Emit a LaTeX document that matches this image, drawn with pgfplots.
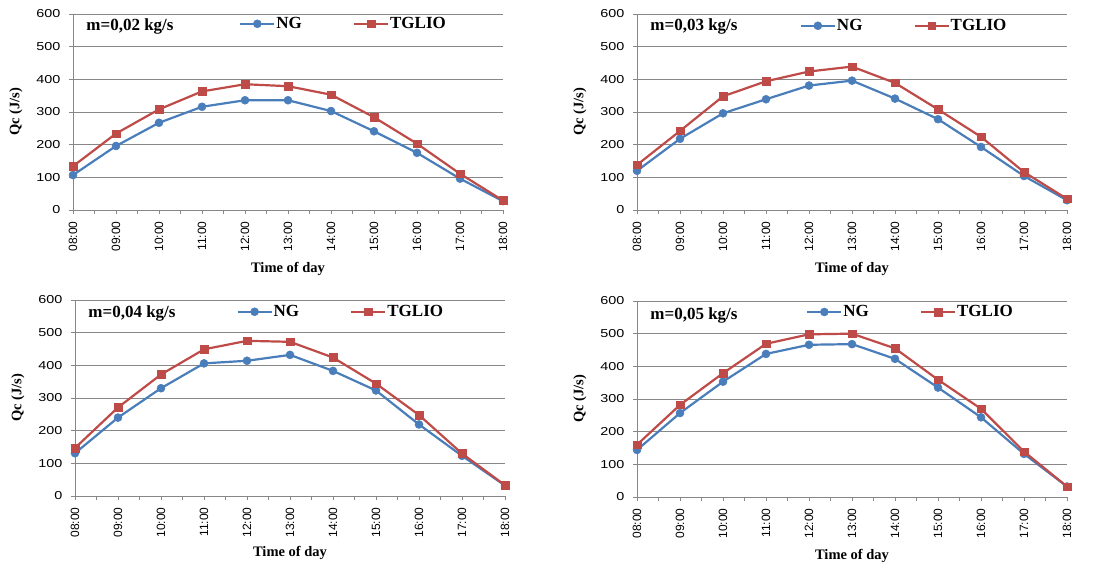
\documentclass[border=0pt]{standalone}
\usepackage{pgfplots}
\pgfplotsset{compat=1.18}
\usepackage{pgfplotstable}
\usepackage{fontspec}
\setmainfont{Liberation Serif}
\newfontfamily\sansf{Liberation Sans}
\newfontfamily\sanswide{Liberation Sans}[FakeStretch=1.25]
\definecolor{ngblue}{HTML}{4A7EBB}
\definecolor{tgred}{HTML}{BE4B48}
\definecolor{gridgray}{HTML}{878787}

\pgfplotstableread{
x ng tg
0 107 134
1 196 234
2 267 308
3 316 363
4 336 385
5 336 379
6 303 353
7 241 284
8 175 203
9 96 111
10 27 29
}\dataA
\pgfplotstableread{
x ng tg
0 120 138
1 218 242
2 296 348
3 339 394
4 381 424
5 396 439
6 341 389
7 278 308
8 193 224
9 104 116
10 30 34
}\dataB
\pgfplotstableread{
x ng tg
0 131 147
1 240 271
2 330 372
3 406 449
4 414 475
5 432 472
6 383 424
7 323 344
8 219 248
9 123 130
10 32 33
}\dataC
\pgfplotstableread{
x ng tg
0 144 160
1 257 282
2 353 379
3 438 469
4 466 498
5 468 500
6 423 455
7 335 359
8 244 270
9 132 139
10 32 32
}\dataD

\tikzset{mlabel/.style={anchor=west, font=\bfseries\fontsize{17}{17}\selectfont}}

\pgfplotsset{
 panel/.style={
  scale only axis, width=430pt, height=196pt,
  xmin=0, xmax=10, ymin=0, ymax=600,
  xtick={0,...,10}, minor xtick={0.5,1.5,...,9.5},
  xticklabels={08:00,09:00,10:00,11:00,12:00,13:00,14:00,15:00,16:00,17:00,18:00},
  ytick={0,100,...,600},
  axis lines=left, axis line style={-, gridgray, line width=0.8pt},
  ymajorgrids, grid style={gridgray, line width=0.8pt},
  tick align=outside, major tick length=4pt, minor tick length=4pt,
  tick style={gridgray, line width=0.8pt},
  /pgf/number format/assume math mode=true,
  xticklabel style={yshift=-4pt, rotate=90, anchor=east, font=\sansf\fontsize{12}{12}\selectfont},
  yticklabel style={xshift=-5pt, font=\sanswide\fontsize{11.5}{11.5}\selectfont},
  clip=false,
  legend columns=2,
  legend style={draw=none, fill=none, font=\bfseries\fontsize{17}{17}\selectfont, anchor=center,
    inner sep=0pt, /tikz/every even column/.append style={column sep=50pt},
    nodes={inner sep=1pt}},
  legend image code/.code={\draw[mark repeat=2, mark phase=2] plot coordinates {(0pt,0pt)(17pt,0pt)(34pt,0pt)};},
  ylabel={Qc (J/s)}, xlabel={Time of day},
  label style={font=\bfseries\fontsize{14.5}{14.5}\selectfont},
  xlabel style={at={(axis description cs:0.5,-0.30)}, anchor=center},
  ylabel style={at={(axis description cs:-0.133,0.5)}, anchor=center},
 },
 ng/.style={ngblue, line width=2.2pt, mark=*, mark size=4pt, mark options={fill=ngblue, draw=ngblue, line width=0.5pt}},
 tg/.style={tgred, line width=2.2pt, mark=square*, mark size=3.8pt, mark options={fill=tgred, draw=tgred, line width=0.5pt}},
}

\begin{document}
\begin{tikzpicture}
\useasboundingbox (0,0) rectangle (1100pt,-563pt);

\begin{axis}[panel, at={(73pt,-14pt)}, anchor=north west, legend style={at={(0.628,0.95)}}]
\addplot[ng] table[x=x,y=ng] {\dataA};
\addplot[tg] table[x=x,y=tg] {\dataA};
\legend{NG,TGLIO}
\node[mlabel] at (rel axis cs:0.023,0.935) {m=0,02 kg/s};
\end{axis}

\begin{axis}[panel, at={(637pt,-14pt)}, anchor=north west, legend style={at={(0.62,0.94)}}]
\addplot[ng] table[x=x,y=ng] {\dataB};
\addplot[tg] table[x=x,y=tg] {\dataB};
\legend{NG,TGLIO}
\node[mlabel] at (rel axis cs:0.023,0.935) {m=0,03 kg/s};
\end{axis}

\begin{axis}[panel, at={(75pt,-300pt)}, anchor=north west, legend style={at={(0.617,0.94)}}, xlabel style={at={(axis description cs:0.5,-0.29)}}]
\addplot[ng] table[x=x,y=ng] {\dataC};
\addplot[tg] table[x=x,y=tg] {\dataC};
\legend{NG,TGLIO}
\node[mlabel] at (rel axis cs:0.023,0.93) {m=0,04 kg/s};
\end{axis}

\begin{axis}[panel, at={(637pt,-301pt)}, anchor=north west, legend style={at={(0.635,0.944)}}]
\addplot[ng] table[x=x,y=ng] {\dataD};
\addplot[tg] table[x=x,y=tg] {\dataD};
\legend{NG,TGLIO}
\node[mlabel] at (rel axis cs:0.023,0.925) {m=0,05 kg/s};
\end{axis}
\end{tikzpicture}
\end{document}
